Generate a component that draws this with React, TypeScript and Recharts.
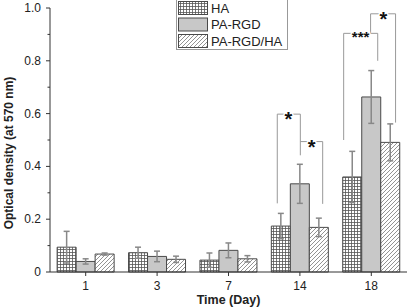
import { BarChart, Bar, XAxis, YAxis, ErrorBar, ReferenceLine, ReferenceDot, Legend } from "recharts";

const days = ["1", "3", "7", "14", "18"];
const ha = [0.094, 0.073, 0.045, 0.174, 0.36];
const haErr = [0.06, 0.021, 0.027, 0.048, 0.097];
const paRgd = [0.04, 0.059, 0.082, 0.334, 0.663];
const paRgdErr = [0.01, 0.02, 0.028, 0.074, 0.1];
const paRgdHa = [0.068, 0.048, 0.05, 0.169, 0.491];
const paRgdHaErr = [0.004, 0.012, 0.012, 0.035, 0.07];

const yTicks = [0, 0.1, 0.2, 0.3, 0.4, 0.5, 0.6, 0.7, 0.8, 0.9, 1.0];

// significance brackets, x in category units (0 = day 1), y in data units
const brackets: [number, number][][] = [
  [[2.683, 0.26], [2.683, 0.598], [3.006, 0.598], [3.006, 0.442]],
  [[3.006, 0.494], [3.319, 0.494], [3.319, 0.258]],
  [[3.613, 0.5], [3.613, 0.904], [4.09, 0.904], [4.09, 0.8]],
  [[3.99, 0.904], [3.99, 0.978], [4.34, 0.978], [4.34, 0.566]],
];
const stars = [
  { x: 2.84, y: 0.598, text: "*" },
  { x: 3.165, y: 0.494, text: "*" },
  { x: 3.85, y: 0.904, text: "***" },
  { x: 4.168, y: 0.978, text: "*" },
];

const data = days.map((day, i) => ({
  day,
  idx: i,
  ha: ha[i],
  haErr: haErr[i],
  paRgd: paRgd[i],
  paRgdErr: paRgdErr[i],
  paRgdHa: paRgdHa[i],
  paRgdHaErr: paRgdHaErr[i],
}));

const segments = brackets.flatMap((pts) =>
  pts.slice(1).map((p, i) => [pts[i], p] as [[number, number], [number, number]])
);

const FONT = "'Liberation Sans', Arial, sans-serif";
const GRAY = "#c8c8c8";
const EDGE = "#4a4a4a";

function Patterns({ suffix }: { suffix: string }) {
  return (
    <defs>
      <pattern id={`grid${suffix}`} width="3" height="3" patternUnits="userSpaceOnUse">
        <rect width="3" height="3" fill="#fff" />
        <path d="M0 0.5H3M0.5 0V3" stroke="#555" strokeWidth="0.8" />
      </pattern>
      <pattern id={`hatch${suffix}`} width="4" height="4" patternUnits="userSpaceOnUse">
        <rect width="4" height="4" fill="#fff" />
        <path d="M-1 1L1 -1M0 4L4 0M3 5L5 3" stroke="#777" strokeWidth="0.8" />
      </pattern>
    </defs>
  );
}

const legendItems = [
  { name: "HA", fill: "url(#gridL)" },
  { name: "PA-RGD", fill: GRAY },
  { name: "PA-RGD/HA", fill: "url(#hatchL)" },
];

function LegendBox() {
  return (
    <div
      style={{
        width: 112,
        height: 50,
        border: "1px solid #999",
        borderTop: "none",
        boxSizing: "border-box",
        background: "#fff",
        fontFamily: FONT,
        fontSize: 13,
        color: "#222",
        position: "relative",
      }}
    >
      <svg width={112} height={50} style={{ position: "absolute", left: 0, top: 0 }}>
        <Patterns suffix="L" />
        {legendItems.map((it, i) => (
          <g key={it.name}>
            <rect x={1.5} y={1.5 + i * 16.5} width={29} height={13} fill={it.fill} stroke={EDGE} />
            <text x={34} y={8 + i * 16.5} dominantBaseline="central" fontSize={13} fill="#222">
              {it.name}
            </text>
          </g>
        ))}
      </svg>
    </div>
  );
}

function YTick(props: any) {
  const { x, y, payload } = props;
  const v = payload.value as number;
  const major = Math.round(v * 10) % 2 === 0;
  return (
    <g>
      <line x1={x - (major ? 4 : 2.5)} x2={x} y1={y} y2={y} stroke="#333" />
      {major && (
        <text x={x - 9} y={y} textAnchor="end" dominantBaseline="central" fontSize={12} fill="#222" fontFamily={FONT}>
          {v === 0 ? "0" : v.toFixed(1)}
        </text>
      )}
    </g>
  );
}

function Star(props: any) {
  const { cx, cy, label } = props;
  const big = label === "*";
  return (
    <text
      x={cx}
      y={cy}
      dy="0.6em"
      textAnchor="middle"
      fontSize={big ? 20 : 15}
      fontWeight="bold"
      fontFamily={FONT}
      fill="#111"
      stroke="#fff"
      strokeWidth={3}
      paintOrder="stroke"
    >
      {label}
    </text>
  );
}

export default function App() {
  return (
    <div style={{ position: "absolute", left: 0, top: 0, width: 410, height: 307, background: "#fff" }}>
      <BarChart
        width={410}
        height={307}
        data={data}
        margin={{ top: 8, right: 3, bottom: 0, left: 0 }}
        barCategoryGap="10%"
        barGap={0}
      >
        <Patterns suffix="C" />
        <XAxis
          xAxisId="cat"
          dataKey="day"
          height={35}
          tickSize={4}
          tickMargin={5}
          stroke="#333"
          tick={{ fontSize: 12, fill: "#222", fontFamily: FONT }}
          label={{
            content: (p: any) => (
              <text
                x={p.viewBox.x + p.viewBox.width / 2}
                y={p.viewBox.y + 31.5}
                textAnchor="middle"
                fontSize={12.5}
                fontWeight="bold"
                fontFamily={FONT}
                fill="#222"
              >
                Time (Day)
              </text>
            ),
          }}
        />
        <XAxis xAxisId="n" dataKey="idx" type="number" domain={[-0.5, 4.5]} allowDataOverflow hide />
        <YAxis
          width={50}
          domain={[0, 1]}
          ticks={yTicks}
          interval={0}
          tickSize={0}
          tickMargin={0}
          stroke="#333"
          tick={<YTick />}
          label={{
            content: (p: any) => (
              <text
                transform={`translate(9, ${p.viewBox.y + p.viewBox.height / 2 + 13}) rotate(-90)`}
                textAnchor="middle"
                dominantBaseline="central"
                fontSize={12}
                fontWeight="bold"
                fontFamily={FONT}
                fill="#222"
              >
                Optical density (at 570 nm)
              </text>
            ),
          }}
        />
        <Legend
          layout="vertical"
          align="center"
          verticalAlign="middle"
          wrapperStyle={{ top: 0, left: 176, width: 112, height: 50 }}
          content={() => <LegendBox />}
        />
        <Bar xAxisId="cat" dataKey="ha" name="HA" fill="url(#gridC)" stroke={EDGE} isAnimationActive={false}>
          <ErrorBar dataKey="haErr" width={3} stroke="#888" isAnimationActive={false} />
        </Bar>
        <Bar xAxisId="cat" dataKey="paRgd" name="PA-RGD" fill={GRAY} stroke={EDGE} isAnimationActive={false}>
          <ErrorBar dataKey="paRgdErr" width={3} stroke="#888" isAnimationActive={false} />
        </Bar>
        <Bar xAxisId="cat" dataKey="paRgdHa" name="PA-RGD/HA" fill="url(#hatchC)" stroke={EDGE} isAnimationActive={false}>
          <ErrorBar dataKey="paRgdHaErr" width={3} stroke="#888" isAnimationActive={false} />
        </Bar>
        {segments.map(([a, b], i) => (
          <ReferenceLine
            key={`s${i}`}
            xAxisId="n"
            segment={[{ x: a[0], y: a[1] }, { x: b[0], y: b[1] }]}
            stroke="#999"
            ifOverflow="visible"
          />
        ))}
        {stars.map((s, i) => (
          <ReferenceDot
            key={`d${i}`}
            xAxisId="n"
            x={s.x}
            y={s.y}
            ifOverflow="visible"
            shape={(p: any) => <Star cx={p.cx} cy={p.cy} label={s.text} />}
          />
        ))}
      </BarChart>
    </div>
  );
}
